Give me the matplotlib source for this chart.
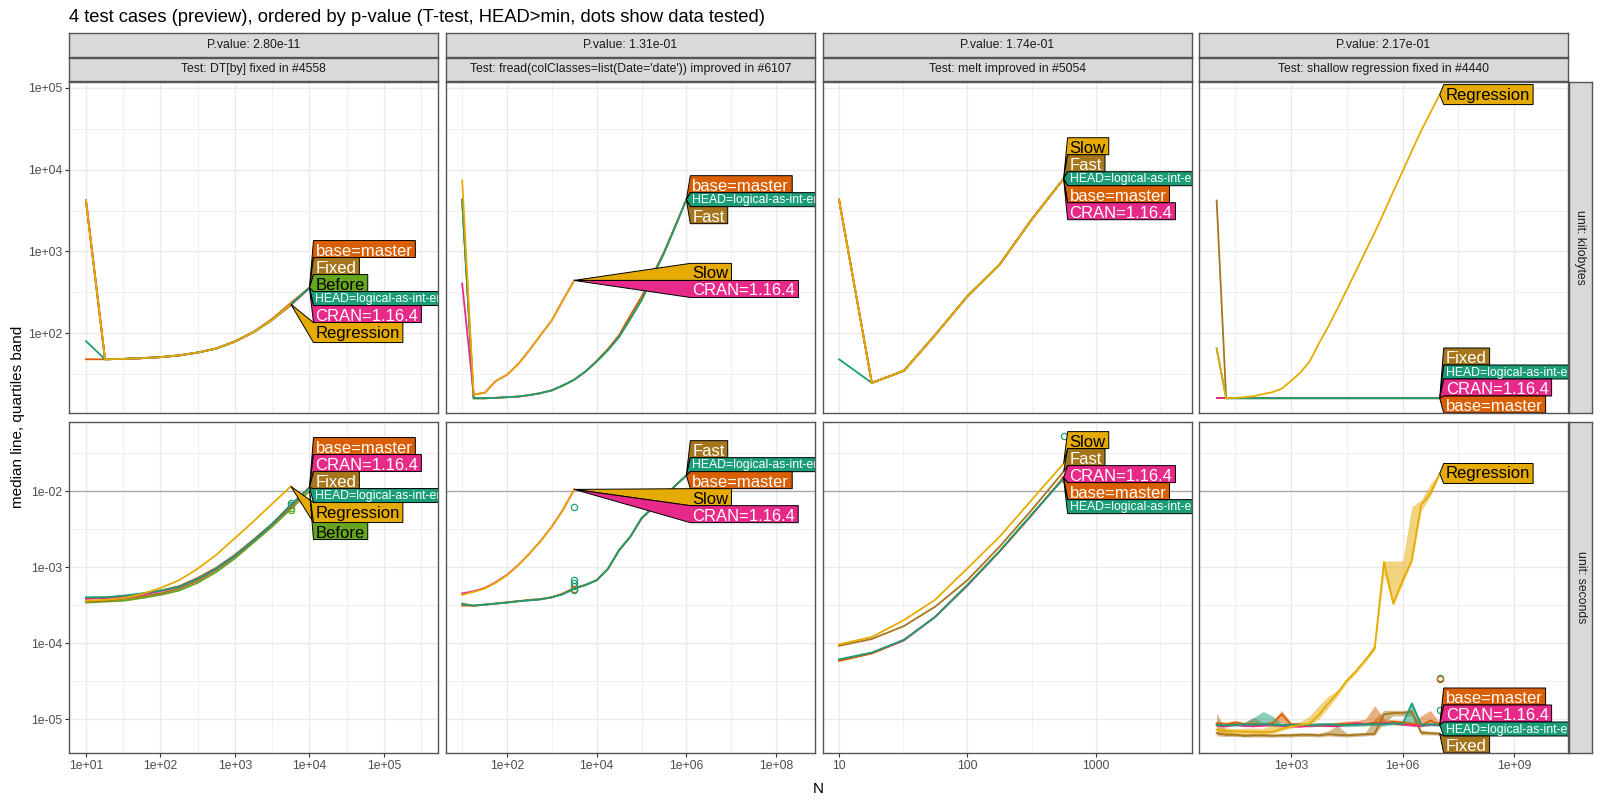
import numpy as np
import matplotlib
matplotlib.use("Agg")
import matplotlib.pyplot as plt
from matplotlib.patches import Polygon
from matplotlib.ticker import NullLocator, FixedLocator

plt.rcParams['font.family'] = ['Liberation Sans', 'DejaVu Sans']

# ------------------------------------------------------------------ data
title = "4 test cases (preview), ordered by p-value (T-test, HEAD>min, dots show data tested)"
tests = ["Test: DT[by] fixed in #4558",
         "Test: fread(colClasses=list(Date='date')) improved in #6107",
         "Test: melt improved in #5054",
         "Test: shallow regression fixed in #4440"]
pvalues = ["P.value: 2.80e-11", "P.value: 1.31e-01", "P.value: 1.74e-01", "P.value: 2.17e-01"]
units = ["unit: kilobytes", "unit: seconds"]

HEAD = "HEAD=logical-as-int-error"
BASE = "base=master"
CRAN = "CRAN=1.16.4"

colors = {HEAD: "#1B9E77", BASE: "#D95F02", CRAN: "#E7298A", "Before": "#66A61E",
          "Regression": "#E6AB02", "Fixed": "#A6761D", "Slow": "#E6AB02", "Fast": "#A6761D"}
dark_text = ["Regression", "Slow", "Before"]

# DT[by]
dtby_N = [10, 18, 32, 56, 100, 178, 316, 562, 1000, 1778, 3162, 5623, 10000]
dtby_kb = {
    "Before": [4200, 48, 48.5, 49.5, 51, 53.5, 58, 65, 79, 103, 146, 222, 358],
    "Fixed": [4200, 48, 48.5, 49.5, 51, 53.5, 58, 65, 79, 103, 146, 222, 358],
    BASE: [48, 48, 48.5, 49.5, 51, 53.5, 58, 65, 80, 104, 150, 235, 362],
    CRAN: [4200, 48, 48.5, 49.5, 51, 53.5, 58, 65, 79, 103, 146, 222, 358],
    HEAD: [80, 48, 48.5, 49.5, 51, 53.5, 58, 65, 79, 103, 146, 225, 360],
    "Regression": [4200, 48, 48.5, 49.5, 51, 53.5, 58, 65, 79, 103, 146, 226],
}
dtby_sec = {
    "Before": [3.4e-4, 3.5e-4, 3.6e-4, 3.9e-4, 4.3e-4, 4.9e-4, 6.2e-4, 8.6e-4, 1.3e-3, 2.1e-3, 3.4e-3, 5.8e-3, 1.0e-2],
    "Fixed": [3.5e-4, 3.6e-4, 3.8e-4, 4.1e-4, 4.5e-4, 5.2e-4, 6.6e-4, 9.2e-4, 1.38e-3, 2.2e-3, 3.6e-3, 6.2e-3, 1.1e-2],
    BASE: [3.9e-4, 4.0e-4, 4.1e-4, 4.4e-4, 4.9e-4, 5.6e-4, 7.2e-4, 9.8e-4, 1.45e-3, 2.3e-3, 3.7e-3, 6.4e-3, 1.1e-2],
    CRAN: [3.8e-4, 3.9e-4, 4.0e-4, 4.3e-4, 4.8e-4, 5.5e-4, 7.0e-4, 9.5e-4, 1.42e-3, 2.25e-3, 3.7e-3, 6.5e-3, 1.12e-2],
    HEAD: [4.0e-4, 4.0e-4, 4.2e-4, 4.5e-4, 4.9e-4, 5.5e-4, 7.0e-4, 9.6e-4, 1.42e-3, 2.25e-3, 3.7e-3, 6.6e-3, 1.1e-2],
    "Regression": [3.6e-4, 3.7e-4, 3.9e-4, 4.4e-4, 5.3e-4, 6.7e-4, 9.5e-4, 1.45e-3, 2.4e-3, 4.0e-3, 6.8e-3, 1.15e-2],
}
dtby_dots_N = 5623
dtby_dots = [(HEAD, 7.0e-3), (HEAD, 6.6e-3), ("Before", 6.0e-3), ("Before", 5.7e-3)]
dtby_order_kb = [BASE, "Fixed", "Before", HEAD, CRAN, "Regression"]
dtby_order_sec = [BASE, CRAN, "Fixed", HEAD, "Regression", "Before"]

# fread
fread_N = [10, 18, 32, 56, 100, 178, 316, 562, 1000, 1778, 3162, 5623, 10000, 17783,
           31623, 56234, 100000, 177828, 316228, 562341, 1000000]
fread_kb = {
    "Fast": [4300, 16, 16, 16.2, 16.5, 16.8, 17.5, 18.5, 20, 23, 27, 34, 45, 62, 90, 150, 253, 490, 950, 2000, 4300],
    BASE: [4300, 16, 16, 16.2, 16.5, 16.8, 17.5, 18.5, 20, 23, 27, 34, 46, 64, 95, 165, 280, 520, 980, 2050, 4300],
    HEAD: [4300, 16, 16, 16.2, 16.5, 16.8, 17.5, 18.5, 20, 23, 27, 34, 45, 62, 90, 150, 253, 490, 950, 2000, 4300],
    CRAN: [405, 17.8, 18.7, 26, 31, 42, 62, 95, 144, 255, 443],
    "Slow": [7400, 17.8, 18.7, 26, 31, 42, 62, 95, 144, 255, 443],
}
fread_sec = {
    "Fast": [3.3e-4, 3.1e-4, 3.2e-4, 3.3e-4, 3.4e-4, 3.55e-4, 3.65e-4, 3.75e-4, 4.0e-4, 4.4e-4, 5.2e-4,
             5.8e-4, 6.7e-4, 9.4e-4, 1.67e-3, 2.5e-3, 4.4e-3, 6.0e-3, 8.3e-3, 1.17e-2, 1.6e-2],
    BASE: [3.1e-4, 3.1e-4, 3.2e-4, 3.3e-4, 3.45e-4, 3.55e-4, 3.7e-4, 3.8e-4, 4.0e-4, 4.5e-4, 5.3e-4,
           5.8e-4, 6.7e-4, 9.5e-4, 1.65e-3, 2.5e-3, 4.3e-3, 6.0e-3, 8.3e-3, 1.17e-2, 1.6e-2],
    HEAD: [3.25e-4, 3.1e-4, 3.2e-4, 3.3e-4, 3.4e-4, 3.55e-4, 3.65e-4, 3.75e-4, 4.0e-4, 4.4e-4, 5.2e-4,
           5.8e-4, 6.7e-4, 9.4e-4, 1.67e-3, 2.5e-3, 4.4e-3, 6.0e-3, 8.3e-3, 1.17e-2, 1.6e-2],
    CRAN: [4.5e-4, 4.8e-4, 5.3e-4, 6.3e-4, 7.9e-4, 1.06e-3, 1.5e-3, 2.2e-3, 3.4e-3, 5.7e-3, 1.05e-2],
    "Slow": [4.3e-4, 4.7e-4, 5.2e-4, 6.2e-4, 7.8e-4, 1.05e-3, 1.5e-3, 2.2e-3, 3.4e-3, 5.6e-3, 1.05e-2],
}
fread_dots_N = 3162
fread_dots = [(HEAD, 6.2e-3), (HEAD, 6.7e-4), (HEAD, 6.2e-4), (HEAD, 5.7e-4), (BASE, 5.2e-4), (HEAD, 5.0e-4)]
fread_order_kb = [BASE, HEAD, "Fast", "Slow", CRAN]
fread_order_sec = ["Fast", HEAD, BASE, "Slow", CRAN]

# melt
melt_N = [10, 18, 32, 56, 100, 178, 316, 562]
melt_kb = {
    CRAN: [4300, 24.7, 34.7, 95, 283, 690, 2450, 7760],
    BASE: [4300, 24.7, 34.7, 95, 283, 690, 2450, 7760],
    HEAD: [48, 24.7, 34.7, 95, 283, 690, 2450, 7760],
    "Fast": [4300, 24.7, 34.7, 95, 283, 690, 2450, 7760],
    "Slow": [4300, 24.7, 34.7, 95, 283, 690, 2450, 7760],
}
melt_sec = {
    CRAN: [6.0e-5, 7.3e-5, 1.08e-4, 2.2e-4, 5.7e-4, 1.6e-3, 4.8e-3, 1.5e-2],
    BASE: [5.8e-5, 7.3e-5, 1.1e-4, 2.2e-4, 5.8e-4, 1.6e-3, 4.8e-3, 1.5e-2],
    HEAD: [6.1e-5, 7.5e-5, 1.1e-4, 2.2e-4, 5.8e-4, 1.62e-3, 4.9e-3, 1.45e-2],
    "Fast": [9.2e-5, 1.13e-4, 1.67e-4, 3.0e-4, 6.7e-4, 1.85e-3, 5.6e-3, 1.8e-2],
    "Slow": [9.6e-5, 1.2e-4, 2.0e-4, 3.7e-4, 9.6e-4, 2.5e-3, 7.6e-3, 2.3e-2],
}
melt_dots_N = 562
melt_dots = [(HEAD, 5.3e-2), (BASE, 1.45e-2)]
melt_order_kb = ["Slow", "Fast", HEAD, BASE, CRAN]
melt_order_sec = ["Slow", "Fast", CRAN, BASE, HEAD]

# shallow
shallow_N = [10, 18, 32, 56, 100, 178, 316, 562, 1e3, 1778, 3162, 5623, 1e4, 17783, 31623,
             56234, 1e5, 177828, 316228, 562341, 1e6, 1778279, 3162278, 5623413, 1e7]
shallow_kb = {
    BASE: [16, 16, 16, 16, 16, 16, 16, 16, 16, 16, 16, 16, 16, 16, 16, 16, 16, 16, 16, 16, 16, 16, 16, 16, 16],
    CRAN: [16, 16, 16, 16, 16, 16, 16, 16, 16, 16, 16, 16, 16, 16, 16, 16, 16, 16, 16, 16, 16, 16, 16, 16, 16],
    "Fixed": [4200, 16, 16, 16, 16, 16, 16, 16, 16, 16, 16, 16, 16, 16, 16, 16, 16, 16, 16, 16, 16, 16, 16, 16, 16],
    HEAD: [65, 16, 16, 16, 16, 16, 16, 16, 16, 16, 16, 16, 16, 16, 16, 16, 16, 16, 16, 16, 16, 16, 16, 16, 16],
    "Regression": [65, 16, 16.2, 16.5, 17, 18, 19, 21, 26, 33, 45, 75, 120, 200, 340, 580, 1000, 1700,
                   3000, 5400, 9500, 17000, 30000, 50000, 83000],
}
shallow_sec = {
    "Fixed": [6.5e-6, 6.2e-6, 6.2e-6, 6.0e-6, 6.1e-6, 6.1e-6, 6.0e-6, 6.1e-6, 6.1e-6, 6.2e-6, 6.2e-6, 6.1e-6, 6.3e-6,
              6.2e-6, 6.1e-6, 6.2e-6, 6.3e-6, 6.4e-6, 1.15e-5, 1.2e-5, 1.2e-5, 1.25e-5, 6.6e-6, 6.5e-6, 6.4e-6],
    BASE: [8.8e-6, 8.5e-6, 9.0e-6, 8.5e-6, 8.6e-6, 8.4e-6, 8.8e-6, 1.15e-5, 8.5e-6, 8.4e-6, 8.3e-6, 8.4e-6, 8.3e-6,
           8.5e-6, 8.7e-6, 8.8e-6, 8.6e-6, 9.0e-6, 8.8e-6, 9.2e-6, 9.0e-6, 8.6e-6, 8.3e-6, 9.5e-6, 8.5e-6],
    CRAN: [8.2e-6, 8.0e-6, 8.4e-6, 8.1e-6, 8.0e-6, 8.2e-6, 8.3e-6, 8.1e-6, 8.0e-6, 7.9e-6, 8.1e-6, 8.2e-6, 8.1e-6,
           8.0e-6, 8.4e-6, 8.8e-6, 8.6e-6, 8.5e-6, 8.9e-6, 8.7e-6, 8.4e-6, 8.2e-6, 8.1e-6, 8.4e-6, 8.3e-6],
    HEAD: [8.4e-6, 8.3e-6, 8.4e-6, 8.5e-6, 8.4e-6, 8.6e-6, 8.4e-6, 8.3e-6, 8.4e-6, 8.4e-6, 8.3e-6, 8.4e-6, 8.5e-6,
           8.4e-6, 8.3e-6, 8.4e-6, 8.5e-6, 8.6e-6, 8.5e-6, 8.8e-6, 8.6e-6, 1.6e-5, 8.4e-6, 8.5e-6, 8.4e-6],
    "Regression": [7.2e-6, 7.0e-6, 6.9e-6, 6.8e-6, 6.8e-6, 6.7e-6, 6.8e-6, 7.4e-6, 8.0e-6, 8.3e-6, 8.7e-6, 1.13e-5,
                   1.6e-5, 2.2e-5, 3.2e-5, 4.3e-5, 6.0e-5, 8.5e-5, 1.17e-3, 3.3e-4, 6.6e-4, 1.23e-3, 6.6e-3,
                   9.3e-3, 1.7e-2],
}
shallow_sec_lo = {
    "Fixed": [6.0e-6, 5.9e-6, 5.9e-6, 5.8e-6, 5.8e-6, 5.8e-6, 5.8e-6, 5.8e-6, 5.8e-6, 5.9e-6, 5.9e-6, 5.8e-6, 6.0e-6,
              5.9e-6, 5.8e-6, 5.9e-6, 6.0e-6, 6.1e-6, 9.0e-6, 1.1e-5, 1.1e-5, 1.1e-5, 6.2e-6, 6.2e-6, 6.1e-6],
    BASE: [8.2e-6, 8.0e-6, 8.4e-6, 8.1e-6, 8.2e-6, 8.0e-6, 8.3e-6, 9.0e-6, 8.1e-6, 8.0e-6, 7.9e-6, 8.0e-6, 7.9e-6,
           8.0e-6, 8.2e-6, 8.3e-6, 8.2e-6, 8.5e-6, 8.4e-6, 8.7e-6, 8.5e-6, 8.2e-6, 7.9e-6, 8.8e-6, 8.1e-6],
    HEAD: [8.0e-6, 7.9e-6, 8.0e-6, 8.1e-6, 8.0e-6, 8.2e-6, 8.0e-6, 7.9e-6, 8.0e-6, 8.0e-6, 7.9e-6, 8.0e-6, 8.1e-6,
           8.0e-6, 7.9e-6, 8.0e-6, 8.1e-6, 8.2e-6, 8.1e-6, 8.4e-6, 8.2e-6, 9.0e-6, 8.0e-6, 8.1e-6, 8.0e-6],
    "Regression": [6.3e-6, 6.2e-6, 6.1e-6, 6.1e-6, 6.2e-6, 6.3e-6, 6.4e-6, 7.0e-6, 7.6e-6, 8.0e-6, 8.4e-6, 1.0e-5,
                   1.4e-5, 2.0e-5, 3.0e-5, 4.0e-5, 5.6e-5, 8.0e-5, 8.0e-4, 3.1e-4, 6.0e-4, 1.15e-3, 5.5e-3,
                   8.5e-3, 1.6e-2],
}
shallow_sec_hi = {
    "Fixed": [1.2e-5, 7.0e-6, 6.6e-6, 6.4e-6, 6.5e-6, 6.5e-6, 6.4e-6, 6.5e-6, 6.5e-6, 6.6e-6, 6.6e-6, 6.5e-6, 7.0e-6,
              8.2e-6, 6.5e-6, 6.6e-6, 6.7e-6, 1.0e-5, 1.3e-5, 1.3e-5, 1.3e-5, 1.35e-5, 7.2e-6, 6.9e-6, 6.8e-6],
    BASE: [9.4e-6, 9.1e-6, 9.6e-6, 9.1e-6, 1.05e-5, 8.9e-6, 9.4e-6, 1.3e-5, 9.0e-6, 8.9e-6, 8.8e-6, 8.9e-6, 8.8e-6,
           9.1e-6, 9.4e-6, 9.5e-6, 1.0e-5, 1.5e-5, 1.0e-5, 9.8e-6, 9.6e-6, 9.2e-6, 1.1e-5, 1.3e-5, 9.0e-6],
    HEAD: [8.9e-6, 8.8e-6, 8.9e-6, 9.0e-6, 1.05e-5, 1.25e-5, 1.1e-5, 8.8e-6, 8.9e-6, 8.9e-6, 8.8e-6, 8.9e-6, 9.0e-6,
           8.9e-6, 8.8e-6, 8.9e-6, 9.0e-6, 9.1e-6, 9.0e-6, 9.3e-6, 9.1e-6, 1.7e-5, 8.9e-6, 9.0e-6, 8.9e-6],
    "Regression": [7.8e-6, 7.6e-6, 7.5e-6, 7.6e-6, 7.6e-6, 7.5e-6, 8.5e-6, 8.4e-6, 9.0e-6, 9.2e-6, 1.1e-5, 1.5e-5,
                   2.0e-5, 2.4e-5, 3.4e-5, 4.6e-5, 6.4e-5, 1.0e-4, 1.2e-3, 1.2e-3, 1.2e-3, 6.2e-3, 7.6e-3,
                   1.25e-2, 1.75e-2],
}
shallow_dots_N = 1e7
shallow_dots = [(HEAD, 3.5e-5), (BASE, 3.4e-5), (HEAD, 1.3e-5)]
shallow_order_kb = ["Regression", "Fixed", HEAD, CRAN, BASE]
shallow_order_sec = ["Regression", BASE, CRAN, HEAD, "Fixed"]

# axis settings per column (log10 limits) and row
col_xlim = [(0.772, 5.725), (0.639, 8.87), (0.875, 3.75), (0.525, 10.45)]
col_xticks = [[1e1, 1e2, 1e3, 1e4, 1e5], [1e2, 1e4, 1e6, 1e8], [10, 100, 1000], [1e3, 1e6, 1e9]]
col_xticklabels = [["1e+01", "1e+02", "1e+03", "1e+04", "1e+05"], ["1e+02", "1e+04", "1e+06", "1e+08"],
                   ["10", "100", "1000"], ["1e+03", "1e+06", "1e+09"]]
row_ylim = [(1.024, 5.073), (-5.447, -1.092)]
row_yticks = [[1e2, 1e3, 1e4, 1e5], [1e-5, 1e-4, 1e-3, 1e-2]]
row_yticklabels = [["1e+02", "1e+03", "1e+04", "1e+05"], ["1e-05", "1e-04", "1e-03", "1e-02"]]

# ------------------------------------------------------------------ layout
W, H = 1600, 800
fig = plt.figure(figsize=(16, 8), dpi=100)
col_left = [69, 446, 823, 1199]
panel_w = 369
row_top = [82, 422]
panel_h = 331
GRID = "#EBEBEB"
BORDER = "#555555"


def px_axes(x0, y0, w, h, **kw):
    return fig.add_axes([x0 / W, 1 - (y0 + h) / H, w / W, h / H], **kw)


def strip(x0, y0, w, h, text, rot=0):
    a = px_axes(x0, y0, w, h)
    a.set_facecolor("#D9D9D9")
    a.set_xticks([])
    a.set_yticks([])
    for s in a.spines.values():
        s.set_color(BORDER)
        s.set_linewidth(1.0)
    a.text(0.5, 0.5, text, ha="center", va="center", rotation=rot, fontsize=8.8,
           color="#1A1A1A", transform=a.transAxes)


fig.text(col_left[0] / W, 1 - 17 / H, title, fontsize=13.2, ha="left", va="center", color="black")
fig.text(18 / W, 1 - 417 / H, "median line, quartiles band", rotation=90, fontsize=11,
         ha="center", va="center")
fig.text((col_left[0] + col_left[3] + panel_w) / 2 / W, 1 - 789 / H, "N", fontsize=11,
         ha="center", va="center")

for c in range(4):
    strip(col_left[c], 33, panel_w, 24, pvalues[c])
    strip(col_left[c], 57.5, panel_w, 23.5, tests[c])
for r in range(2):
    strip(1569, row_top[r], 23, panel_h, units[r], rot=-90)

renderer = fig.canvas.get_renderer()


def label_font(name):
    return 8.8 if name == HEAD else 12


def label_h(name):
    if name == HEAD:
        return 14
    return 20 if any(ch in name for ch in "gjpqy") else 17


def text_width(name):
    t = fig.text(0, 0, name, fontsize=label_font(name))
    w = t.get_window_extent(renderer).width
    t.remove()
    return w


def place_labels(ax, tips, order, ptop, pbot):
    disp = {n: ax.transData.transform(tips[n]) for n in order}
    hs = [label_h(n) for n in order]
    cy = [H - disp[n][1] for n in order]
    clusters = [[i] for i in range(len(order))]

    def solve(cl):
        vals, rel = [], 0
        for i in cl:
            vals.append(cy[i] - rel - hs[i] / 2)
            rel += hs[i]
        top = float(np.mean(vals))
        top = min(max(top, ptop), pbot - rel)
        return top, rel

    changed = True
    while changed:
        changed = False
        sol = [solve(cl) for cl in clusters]
        for j in range(len(clusters) - 1):
            if sol[j][0] + sol[j][1] > sol[j + 1][0] + 1e-6:
                clusters[j] = clusters[j] + clusters[j + 1]
                del clusters[j + 1]
                changed = True
                break
    sol = [solve(cl) for cl in clusters]
    bx = max(disp[n][0] for n in order) + 4
    inv = ax.transAxes.inverted()
    for cl, (top, _) in zip(clusters, sol):
        y = top
        for i in cl:
            n = order[i]
            h = hs[i]
            w = text_width(n) + 5
            tx, ty = disp[n]
            yt, yb = H - y, H - (y + h)
            pts = inv.transform([(tx, ty), (bx, yt), (bx + w, yt), (bx + w, yb), (bx, yb)])
            ax.add_patch(Polygon(pts, closed=True, facecolor=colors[n], edgecolor="black",
                                 linewidth=0.7, transform=ax.transAxes, zorder=10, clip_on=True))
            if n == HEAD:
                base_off = 3.3
            elif h == 20:
                base_off = 5
            else:
                base_off = 2
            tp = inv.transform([(bx + 2, yb + base_off)])[0]
            ax.text(tp[0], tp[1], n, transform=ax.transAxes, fontsize=label_font(n),
                    color="black" if n in dark_text else "white", ha="left", va="baseline",
                    zorder=11, clip_on=True)
            y += h


def style_axes(ax, c, r):
    ax.set_xscale("log")
    ax.set_yscale("log")
    ax.set_xlim(10 ** col_xlim[c][0], 10 ** col_xlim[c][1])
    ax.set_ylim(10 ** row_ylim[r][0], 10 ** row_ylim[r][1])
    # grid lines: major and half-step minor in log space
    for ticks, lim, line in ((col_xticks[c], col_xlim[c], ax.axvline), (row_yticks[r], row_ylim[r], ax.axhline)):
        logs = np.log10(ticks)
        step = logs[1] - logs[0]
        minors = list(logs - step / 2) + [logs[-1] + step / 2]
        for m in minors:
            if lim[0] < m < lim[1]:
                line(10 ** m, color=GRID, lw=0.55, zorder=0)
        for m in logs:
            line(10 ** m, color=GRID, lw=1.07, zorder=0)
    ax.xaxis.set_minor_locator(NullLocator())
    ax.yaxis.set_minor_locator(NullLocator())
    ax.xaxis.set_major_locator(FixedLocator(col_xticks[c]))
    ax.yaxis.set_major_locator(FixedLocator(row_yticks[r]))
    if r == 1:
        ax.set_xticklabels(col_xticklabels[c])
    else:
        ax.set_xticklabels([])
    if c == 0:
        ax.set_yticklabels(row_yticklabels[r])
    else:
        ax.set_yticklabels([])
    ax.tick_params(axis="x", length=2.75 if r == 1 else 0, width=0.8, color="#333333", pad=2.2,
                   labelsize=8.8, labelcolor="#4D4D4D")
    ax.tick_params(axis="y", length=2.75 if c == 0 else 0, width=0.8, color="#333333", pad=2.2,
                   labelsize=8.8, labelcolor="#4D4D4D")
    for s in ax.spines.values():
        s.set_color(BORDER)
        s.set_linewidth(1.0)
        s.set_zorder(20)


panels = [
    (dtby_N, dtby_kb, dtby_sec, dtby_dots_N, dtby_dots, dtby_order_kb, dtby_order_sec),
    (fread_N, fread_kb, fread_sec, fread_dots_N, fread_dots, fread_order_kb, fread_order_sec),
    (melt_N, melt_kb, melt_sec, melt_dots_N, melt_dots, melt_order_kb, melt_order_sec),
    (shallow_N, shallow_kb, shallow_sec, shallow_dots_N, shallow_dots, shallow_order_kb, shallow_order_sec),
]

for c, (N, kb, sec, dN, dots, order_kb, order_sec) in enumerate(panels):
    for r, (data, order) in enumerate(((kb, order_kb), (sec, order_sec))):
        ax = px_axes(col_left[c], row_top[r], panel_w, panel_h)
        style_axes(ax, c, r)
        if r == 1:
            ax.axhline(1e-2, color="#A8A8A8", lw=0.9, zorder=1)
            if c == 3:
                for name in shallow_sec_lo:
                    ax.fill_between(N, shallow_sec_lo[name], shallow_sec_hi[name],
                                    color=colors[name], alpha=0.5, lw=0, zorder=2)
            for name, y in dots:
                ax.plot([dN], [y], "o", ms=4.5, mfc="none", mec=colors[name], mew=0.9, zorder=3)
        tips = {}
        for name, ys in data.items():
            xs = N[:len(ys)]
            ax.plot(xs, ys, color=colors[name], lw=1.3, zorder=4, solid_joinstyle="round")
            tips[name] = (xs[-1], ys[-1])
        place_labels(ax, tips, order, row_top[r], row_top[r] + panel_h)

fig.savefig("out.png", dpi=100)
